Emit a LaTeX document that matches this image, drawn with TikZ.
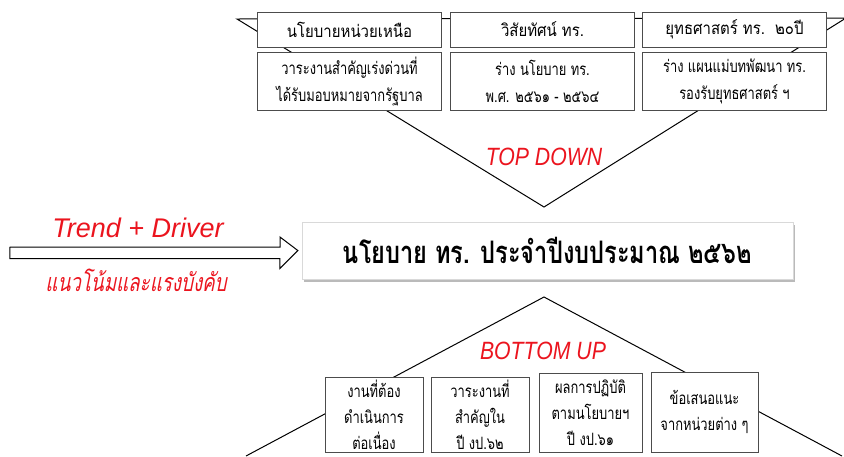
\documentclass[tikz,border=0pt]{standalone}
\usepackage{fontspec}
\setmainfont{Liberation Sans}
\newfontfamily\narrowsans[FakeStretch=0.85]{Liberation Sans}
\newfontfamily\thaifont[Script=Thai,FakeStretch=0.88]{Loma}
\newfontfamily\thaicond[Script=Thai,FakeStretch=0.76]{Loma}
\newfontfamily\thaislant[Script=Thai,FakeSlant=0.2,FakeStretch=0.75]{Loma}
\usetikzlibrary{positioning}
\usetikzlibrary{shadows}
\definecolor{trendred}{RGB}{235,20,30}
\tikzset{upbox/.style={rectangle, draw=black!70, fill=white, line width=0.8pt, minimum width=184pt, inner sep=0pt, align=center, font=\thaicond\fontsize{17}{27}\selectfont}}
\tikzset{lowbox/.style={rectangle, draw=black!70, fill=white, line width=0.8pt, inner sep=0pt, align=center, font=\thaicond\fontsize{17}{26}\selectfont}}
\tikzset{redtext/.style={text=trendred, font=\narrowsans\itshape\fontsize{25}{28}\selectfont}}
\tikzset{wedge/.style={draw=black, line width=1pt}}

\begin{document}
\begin{tikzpicture}[x=1pt,y=-1pt]
    \useasboundingbox (0,0) rectangle (844,456);
    % top down
    \coordinate (tl) at (237,19);
    \coordinate (tr) at (846,18);
    \coordinate (tdtip) at (544,207);
    \draw[wedge] (tl) -- (tr) -- (tdtip) -- cycle;
    \node [redtext](topdown) at (544,157){TOP DOWN};

    \node [upbox, minimum height=35pt, font=\thaifont\fontsize{17}{27}\selectfont](upper) at (349.5,29.5){นโยบายหน่วยเหนือ};
    \node [upbox, minimum height=35pt, font=\thaifont\fontsize{17}{27}\selectfont](vision) at (542.5,29.5){วิสัยทัศน์ ทร.};
    \node [upbox, minimum height=35pt, font=\thaifont\fontsize{17}{27}\selectfont](strategy) at (734.5,29.5){ยุทธศาสตร์ ทร.~~๒๐ปี};
    \node [upbox, minimum height=58pt](agenda) at (349.5,81){วาระงานสำคัญเร่งด่วนที่\\ได้รับมอบหมายจากรัฐบาล};
    \node [upbox, minimum height=58pt](draftpol) at (542.5,81){ร่าง นโยบาย ทร.\\พ.ศ. ๒๕๖๑ - ๒๕๖๔};
    \node [upbox, minimum height=58pt](draftplan) at (734.5,81){ร่าง แผนแม่บทพัฒนา ทร.\\รองรับยุทธศาสตร์ ฯ};

    % policy
    \node [rectangle, draw=black!15, fill=white, drop shadow={shadow xshift=2pt, shadow yshift=-2.5pt, opacity=.45, fill=black!60}, minimum width=491pt, minimum height=57pt, font=\thaicond\bfseries\fontsize{31}{34}\selectfont](policy) at (547.5,250.5){นโยบาย ทร. ประจำปีงบประมาณ ๒๕๖๒};
    \coordinate (arrowtail) at (10,255);
    \coordinate[left=4pt of policy.west](arrowtip);
    \draw[line width=1pt, fill=white] (arrowtail) ++(0,-8) -- ++(270,0) -- ++(0,-10) -- (arrowtip) -- ++(-18,18) -- ++(0,-10) -- ++(-270,0) -- cycle;
    \node [text=trendred, font=\itshape\fontsize{27}{30}\selectfont](trend) at (138,228){Trend + Driver};
    \node [text=trendred, font=\thaislant\fontsize{25}{28}\selectfont](trendthai) at (136,280){แนวโน้มและแรงบังคับ};

    % bottom up
    \coordinate (bl) at (246,456);
    \coordinate (br) at (842,456);
    \coordinate (butip) at (544,297);
    \draw[wedge] (bl) -- (butip) -- (br);
    \node [redtext](bottomup) at (543,351){BOTTOM UP};

    \node [lowbox, minimum width=98pt, minimum height=75pt](ongoing) at (374,414.5){งานที่ต้อง\\ดำเนินการ\\ต่อเนื่อง};
    \node [lowbox, minimum width=98pt, minimum height=75pt](keyagenda) at (480,414.5){วาระงานที่\\สำคัญใน\\ปี งป.๖๒};
    \node [lowbox, minimum width=103pt, minimum height=79pt](results) at (590.5,412.5){ผลการปฏิบัติ\\ตามนโยบายฯ\\ปี งป.๖๑};
    \node [lowbox, minimum width=107pt, minimum height=80pt](proposal) at (704.5,412){ข้อเสนอแนะ\\จากหน่วยต่าง ๆ};
\end{tikzpicture}
\end{document}
